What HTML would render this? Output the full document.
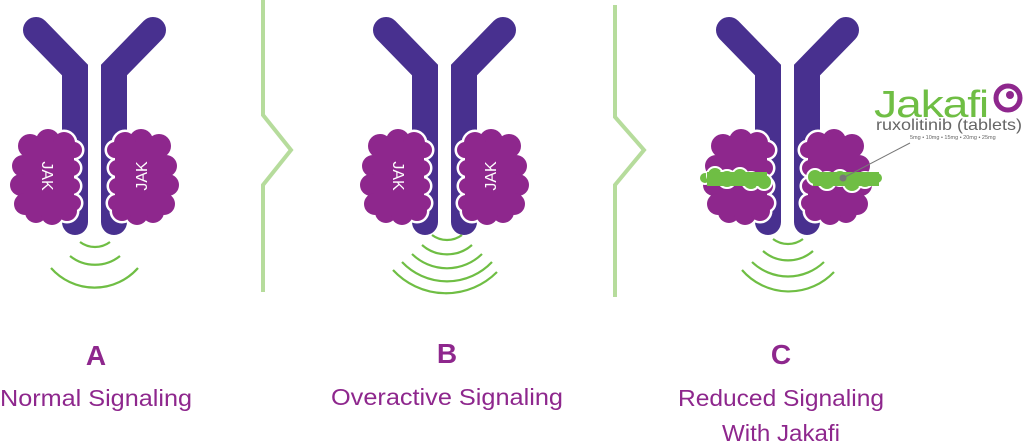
<!DOCTYPE html>
<html><head><meta charset="utf-8"><style>
html,body{margin:0;padding:0;background:#fff;width:1026px;height:448px;overflow:hidden}
svg{display:block}
text{font-family:"Liberation Sans",sans-serif}
</style></head><body>
<svg width="1026" height="448" viewBox="0 0 1026 448" xmlns="http://www.w3.org/2000/svg">
<defs>
 <g id="rec">
  <path d="M36,30 L75,70 L75,222" fill="none" stroke="#48308f" stroke-width="26" stroke-linecap="round"/>
  <path d="M153,30 L114,70 L114,222" fill="none" stroke="#48308f" stroke-width="26" stroke-linecap="round"/>
  <rect x="88" y="60" width="13" height="180" fill="#fff"/>
 </g>
 <g id="blobc">
  <circle cx="30" cy="146" r="12"/><circle cx="48" cy="141" r="12"/><circle cx="64" cy="143" r="11"/>
  <circle cx="23" cy="166" r="11"/><circle cx="21" cy="185" r="11"/><circle cx="25" cy="204" r="11"/>
  <circle cx="36" cy="212" r="11"/><circle cx="52" cy="214" r="11"/><circle cx="67" cy="211" r="10"/>
  <circle cx="74" cy="150" r="8"/><circle cx="72" cy="168" r="8"/><circle cx="72" cy="186" r="8"/><circle cx="73" cy="203" r="8"/>
  <rect x="24" y="142" width="50" height="72"/>
 </g>
 <g id="blob">
  <use href="#blobc" fill="#fff" stroke="#fff" stroke-width="5"/>
  <use href="#blobc" fill="#8e278d"/>
 </g>
 <g id="blobR">
  <use href="#blob" transform="translate(189,0) scale(-1,1)"/>
 </g>
</defs>

<g>
 <use href="#rec"/>
 <use href="#blob"/>
 <use href="#blobR"/>
 <text transform="translate(42,176) rotate(90)" fill="#fff" font-size="16" text-anchor="middle">JAK</text>
 <text transform="translate(147,176) rotate(-90)" fill="#fff" font-size="16" text-anchor="middle">JAK</text>
 <g fill="none" stroke="#6fbe44" stroke-width="2.2">
  <path d="M80,242 A25,25 0 0 0 110,242"/>
  <path d="M70,256 A40,40 0 0 0 120,256"/>
  <path d="M51,268 A58,58 0 0 0 138,268"/>
 </g>
</g>

<g transform="translate(350,0)">
 <use href="#rec"/>
 <use href="#blob"/>
 <use href="#blobR"/>
 <text transform="translate(43,176) rotate(90)" fill="#fff" font-size="16" text-anchor="middle">JAK</text>
 <text transform="translate(146,176) rotate(-90)" fill="#fff" font-size="16" text-anchor="middle">JAK</text>
 <g fill="none" stroke="#6fbe44" stroke-width="2.2">
  <path d="M82,235 A25,25 0 0 0 112,235"/>
  <path d="M72,245 A38,38 0 0 0 122,245"/>
  <path d="M62,254 A50,50 0 0 0 132,254"/>
  <path d="M52,262 A62,62 0 0 0 142,262"/>
  <path d="M43,270 A72,72 0 0 0 147,272"/>
 </g>
</g>

<g transform="translate(693,0)">
 <use href="#rec"/>
 <use href="#blob"/>
 <use href="#blobR"/>
 <g fill="#6fbe44" stroke="#fff" stroke-width="2">
  <circle cx="12" cy="178" r="6"/><circle cx="22" cy="175" r="8"/><circle cx="34" cy="179" r="9"/><circle cx="47" cy="176" r="8"/><circle cx="58" cy="181" r="9"/><circle cx="71" cy="182" r="8"/>
  <circle cx="122" cy="177" r="8"/><circle cx="134" cy="181" r="9"/><circle cx="147" cy="178" r="8"/><circle cx="159" cy="183" r="9"/><circle cx="172" cy="180" r="8"/><circle cx="184" cy="178" r="6"/>
 </g>
 <g fill="#6fbe44">
  <rect x="14" y="172" width="60" height="14"/><rect x="120" y="172" width="66" height="14"/>
 </g>
 <g fill="none" stroke="#6fbe44" stroke-width="2.2">
  <path d="M80,239 A25,25 0 0 0 110,239"/>
  <path d="M70,251 A38,38 0 0 0 120,251"/>
  <path d="M59,262 A52,52 0 0 0 131,262"/>
  <path d="M49,270 A62,62 0 0 0 141,272"/>
 </g>
 <line x1="150" y1="178" x2="217" y2="143" stroke="#777" stroke-width="1"/>
 <circle cx="150" cy="178" r="3.5" fill="#777"/>
</g>

<text x="874" y="117" fill="#6fbe44" font-size="38" letter-spacing="-1" textLength="114" lengthAdjust="spacingAndGlyphs">Jakafi</text>
<circle cx="1008" cy="98" r="12" fill="none" stroke="#8e278d" stroke-width="5"/>
<circle cx="1010" cy="95" r="4" fill="#8e278d"/>
<text x="876" y="130" fill="#666" font-size="16" textLength="146" lengthAdjust="spacingAndGlyphs">ruxolitinib (tablets)</text>
<text x="910" y="139" fill="#666" font-size="5.5">5mg • 10mg • 15mg • 20mg • 25mg</text>

<path d="M263,0 L263,115 L291,150 L263,185 L263,292" fill="none" stroke="#b6dc9c" stroke-width="4"/>
<path d="M615,5 L615,117 L644,150 L615,185 L615,297" fill="none" stroke="#b6dc9c" stroke-width="4"/>

<g fill="#8e278d" text-anchor="middle">
 <text x="96" y="365" font-size="28" font-weight="bold">A</text>
 <text x="96" y="406" font-size="23" textLength="192" lengthAdjust="spacingAndGlyphs">Normal Signaling</text>
 <text x="447" y="363" font-size="28" font-weight="bold">B</text>
 <text x="447" y="405" font-size="23" textLength="232" lengthAdjust="spacingAndGlyphs">Overactive Signaling</text>
 <text x="781" y="364" font-size="28" font-weight="bold">C</text>
 <text x="781" y="406" font-size="23" textLength="206" lengthAdjust="spacingAndGlyphs">Reduced Signaling</text>
 <text x="781" y="441" font-size="23" textLength="118" lengthAdjust="spacingAndGlyphs">With Jakafi</text>
</g>
</svg>
</body></html>
